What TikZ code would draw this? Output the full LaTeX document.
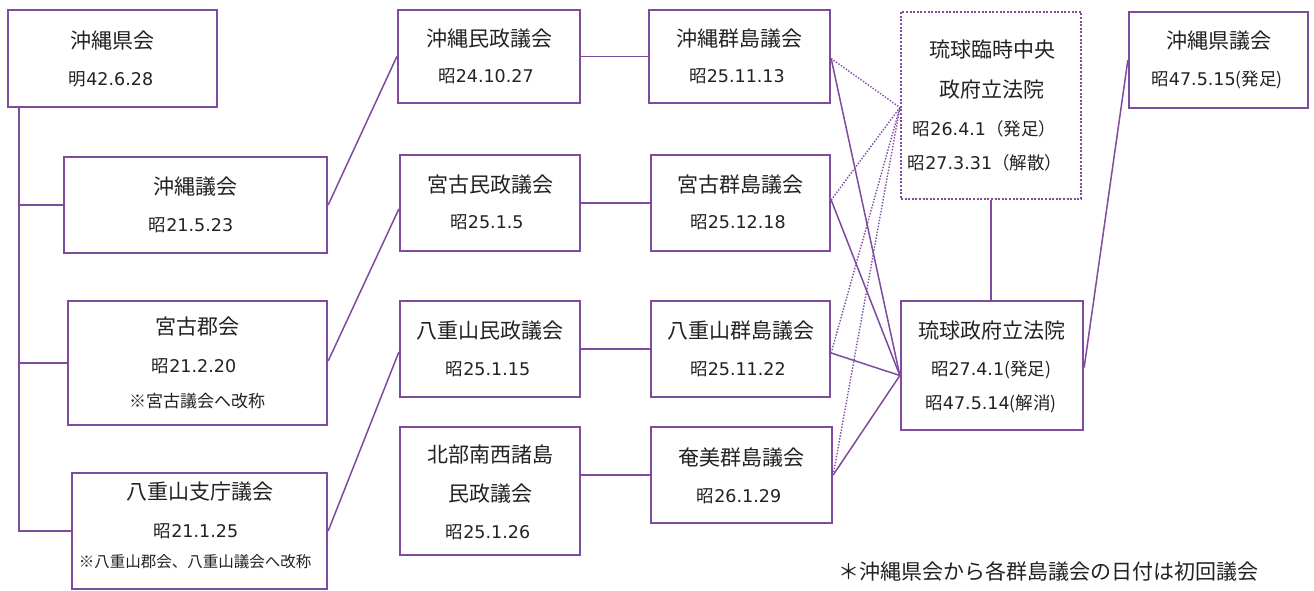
\documentclass[tikz,border=0pt]{standalone}
\usepackage{fontspec}
\setmainfont{Noto Sans CJK JP}
\newfontfamily\lat{DejaVu Sans}
\usetikzlibrary{calc}
\definecolor{pur}{HTML}{7E4B9E}
\definecolor{txt}{HTML}{222222}
\begin{document}
\begin{tikzpicture}[x=1pt,y=-1pt,
  box/.style={draw=pur,line width=2.3pt,inner sep=0pt,fill=white},
  dotbox/.style={draw=pur,line width=2.2pt,inner sep=0pt,dash pattern=on 2pt off 1.6pt},
  ttl/.style={inner sep=0pt,text=txt,font=\fontsize{21}{21}\selectfont},
  dat/.style={inner sep=0pt,text=txt,font=\fontsize{17.5}{17.5}\selectfont},
  note/.style={inner sep=0pt,text=txt,font=\fontsize{17}{17}\selectfont},
  notes/.style={inner sep=0pt,text=txt,font=\fontsize{15.5}{15.5}\selectfont},
  conn/.style={draw=pur,line width=1.5pt},
  dconn/.style={draw=pur,line width=1.4pt,dash pattern=on 1.4pt off 1.6pt}]
\useasboundingbox (0,0) rectangle (1314,590);
% boxes
\node[box,minimum width=209pt,minimum height=97pt] (kenkai) at (112.5,58.5) {};
\node[box,minimum width=263pt,minimum height=96pt] (okgi) at (195.5,205) {};
\node[box,minimum width=259pt,minimum height=124pt] (mkgun) at (197.5,363) {};
\node[box,minimum width=255pt,minimum height=116pt] (yaeshi) at (199.5,531) {};
\node[box,minimum width=182pt,minimum height=93pt] (okmin) at (489,56.5) {};
\node[box,minimum width=180pt,minimum height=96pt] (mkmin) at (490,203) {};
\node[box,minimum width=180pt,minimum height=96pt] (yamin) at (490,349) {};
\node[box,minimum width=180pt,minimum height=128pt] (hokubu) at (490,491) {};
\node[box,minimum width=181pt,minimum height=93pt] (okgun) at (739.5,56.5) {};
\node[box,minimum width=179pt,minimum height=96pt] (mkgunto) at (740.5,203) {};
\node[box,minimum width=179pt,minimum height=96pt] (yagun) at (740.5,349) {};
\node[box,minimum width=181pt,minimum height=96pt] (amami) at (741.5,475) {};
\node[dotbox,minimum width=180pt,minimum height=187pt] (rin) at (991,105.5) {};
\node[box,minimum width=182pt,minimum height=129pt] (rg) at (992,365.5) {};
\node[box,minimum width=179pt,minimum height=96pt] (okken) at (1218.5,60) {};
% texts
\node[ttl] (t1a) at (112.5,41) {沖縄県会};
\node[dat] (t1b) at (111,79) {明{\lat 42.6.28}};
\node[ttl] (t2a) at (195.5,187) {沖縄議会};
\node[dat] (t2b) at (191,225) {昭{\lat 21.5.23}};
\node[ttl] (t3a) at (197.5,327) {宮古郡会};
\node[dat] (t3b) at (194,366) {昭{\lat 21.2.20}};
\node[note] (t3c) at (197,401) {※宮古議会へ改称};
\node[ttl] (t4a) at (199.5,492) {八重山支庁議会};
\node[dat] (t4b) at (196,531) {昭{\lat 21.1.25}};
\node[notes] (t4c) at (195,562) {※八重山郡会、八重山議会へ改称};
\node[ttl] (t5a) at (489,39) {沖縄民政議会};
\node[dat] (t5b) at (486,76) {昭{\lat 24.10.27}};
\node[ttl] (t6a) at (490,185) {宮古民政議会};
\node[dat] (t6b) at (487,222) {昭{\lat 25.1.5}};
\node[ttl] (t7a) at (490,331) {八重山民政議会};
\node[dat] (t7b) at (488,369) {昭{\lat 25.1.15}};
\node[ttl] (t8a) at (490,454) {北部南西諸島};
\node[ttl] (t8b) at (490,494) {民政議会};
\node[dat] (t8c) at (488,532) {昭{\lat 25.1.26}};
\node[ttl] (t9a) at (739.5,39) {沖縄群島議会};
\node[dat] (t9b) at (737,76) {昭{\lat 25.11.13}};
\node[ttl] (t10a) at (740.5,185) {宮古群島議会};
\node[dat] (t10b) at (738,222) {昭{\lat 25.12.18}};
\node[ttl] (t11a) at (741,331) {八重山群島議会};
\node[dat] (t11b) at (738,369) {昭{\lat 25.11.22}};
\node[ttl] (t12a) at (741.5,458) {奄美群島議会};
\node[dat] (t12b) at (739,496) {昭{\lat 26.1.29}};
\node[ttl] (t13a) at (992,50) {琉球臨時中央};
\node[ttl] (t13b) at (992,90) {政府立法院};
\node[dat] (t13c) at (984.5,129) {昭{\lat 26.4.1}（発足）};
\node[dat] (t13d) at (985,163) {昭{\lat 27.3.31}（解散）};
\node[ttl] (t14a) at (992,331) {琉球政府立法院};
\node[dat] (t14b) at (991,370) {昭{\lat 27.4.1}(発足)};
\node[dat] (t14c) at (991,404) {昭{\lat 47.5.14}(解消)};
\node[ttl] (t15a) at (1218.5,41) {沖縄県議会};
\node[dat] (t15b) at (1217,80) {昭{\lat 47.5.15}(発足)};
\node[ttl] (foot) at (1048,572) {＊沖縄県会から各群島議会の日付は初回議会};
% trunk
\coordinate (t0) at ([xshift=12pt]kenkai.south west);
\draw[conn] (t0) -- (t0 |- yaeshi.west) -- (yaeshi.west);
\draw[conn] (t0 |- okgi.west) -- (okgi.west);
\draw[conn] (t0 |- mkgun.west) -- (mkgun.west);
% column links
\draw[conn] (okgi.east) -- (okmin.west);
\draw[conn] ([yshift=2pt]mkgun.east) -- ([yshift=-6pt]mkmin.west);
\draw[conn] (yaeshi.east) -- ([yshift=-3pt]yamin.west);
\draw[conn] (okmin.east) -- (okgun.west);
\draw[conn] (mkmin.east) -- (mkgunto.west);
\draw[conn] (yamin.east) -- (yagun.west);
\draw[conn] (hokubu.east |- amami.west) -- (amami.west);
% to legislature
\coordinate (rgin) at ([yshift=-10pt]rg.west);
\coordinate (rinin) at ([yshift=-2pt]rin.west);
\draw[conn] ([yshift=-2pt]okgun.east) -- (rgin);
\draw[conn] ([yshift=3pt]mkgunto.east) -- (rgin);
\draw[conn] ([yshift=-4pt]yagun.east) -- (rgin);
\draw[conn] (amami.east) -- (rgin);
\draw[dconn] ([yshift=-2pt]okgun.east) -- (rinin);
\draw[dconn] ([yshift=3pt]mkgunto.east) -- (rinin);
\draw[dconn] ([yshift=-4pt]yagun.east) -- (rinin);
\draw[dconn] (amami.east) -- (rinin);
\draw[conn] (rin.south) -- (rin.south |- rg.north);
\draw[conn] ([yshift=-2pt]rg.east) -- (okken.west);
\end{tikzpicture}
\end{document}
